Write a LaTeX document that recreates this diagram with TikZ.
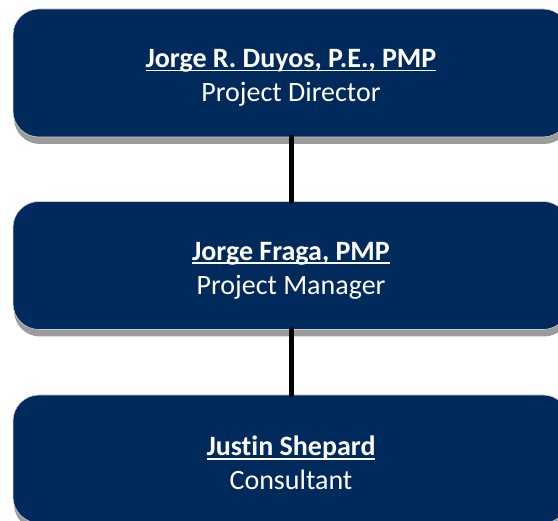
\documentclass[tikz,border=0pt]{standalone}
\usepackage{fontspec}
\setmainfont{Carlito}[Ligatures={NoCommon}]
\usetikzlibrary{shadows}
\definecolor{navy}{RGB}{0,42,92}
\definecolor{shadowgray}{RGB}{155,155,155}
\definecolor{edgegray}{RGB}{205,205,205}
\newcommand\myul[1]{\rule{0pt}{28pt}\setbox0\hbox{#1}\rlap{\rule[-3.8pt]{\wd0}{1.7pt}}\box0}
\tikzset{
 card/.style={rectangle, rounded corners=26pt, fill=navy, draw=edgegray, line width=0.6pt,
   minimum width=556pt, minimum height=128pt, text=white, align=center,
   font=\fontsize{28}{34}\selectfont, inner sep=0pt,
   drop shadow={shadow xshift=1pt, shadow yshift=-7pt, fill=shadowgray, opacity=1}},
 link/.style={line width=5pt, line cap=round, draw=black}
}
\begin{document}
\begin{tikzpicture}[x=1pt,y=-1pt]
\useasboundingbox (0,0) rectangle (558,521);
\clip (0,0) rectangle (558,521);
\node[card] (d) at (291,73) {\myul{\bfseries Jorge R. Duyos, P.E., PMP}\\Project Director};
\node[card] (m) at (291,265.5) {\myul{\bfseries Jorge Fraga, PMP}\\Project Manager};
\node[card] (c) at (291,459) {\myul{\bfseries Justin Shepard}\\Consultant};
\draw[link] (d.south) -- (m.north);
\draw[link] (m.south) -- (c.north);
\end{tikzpicture}
\end{document}
